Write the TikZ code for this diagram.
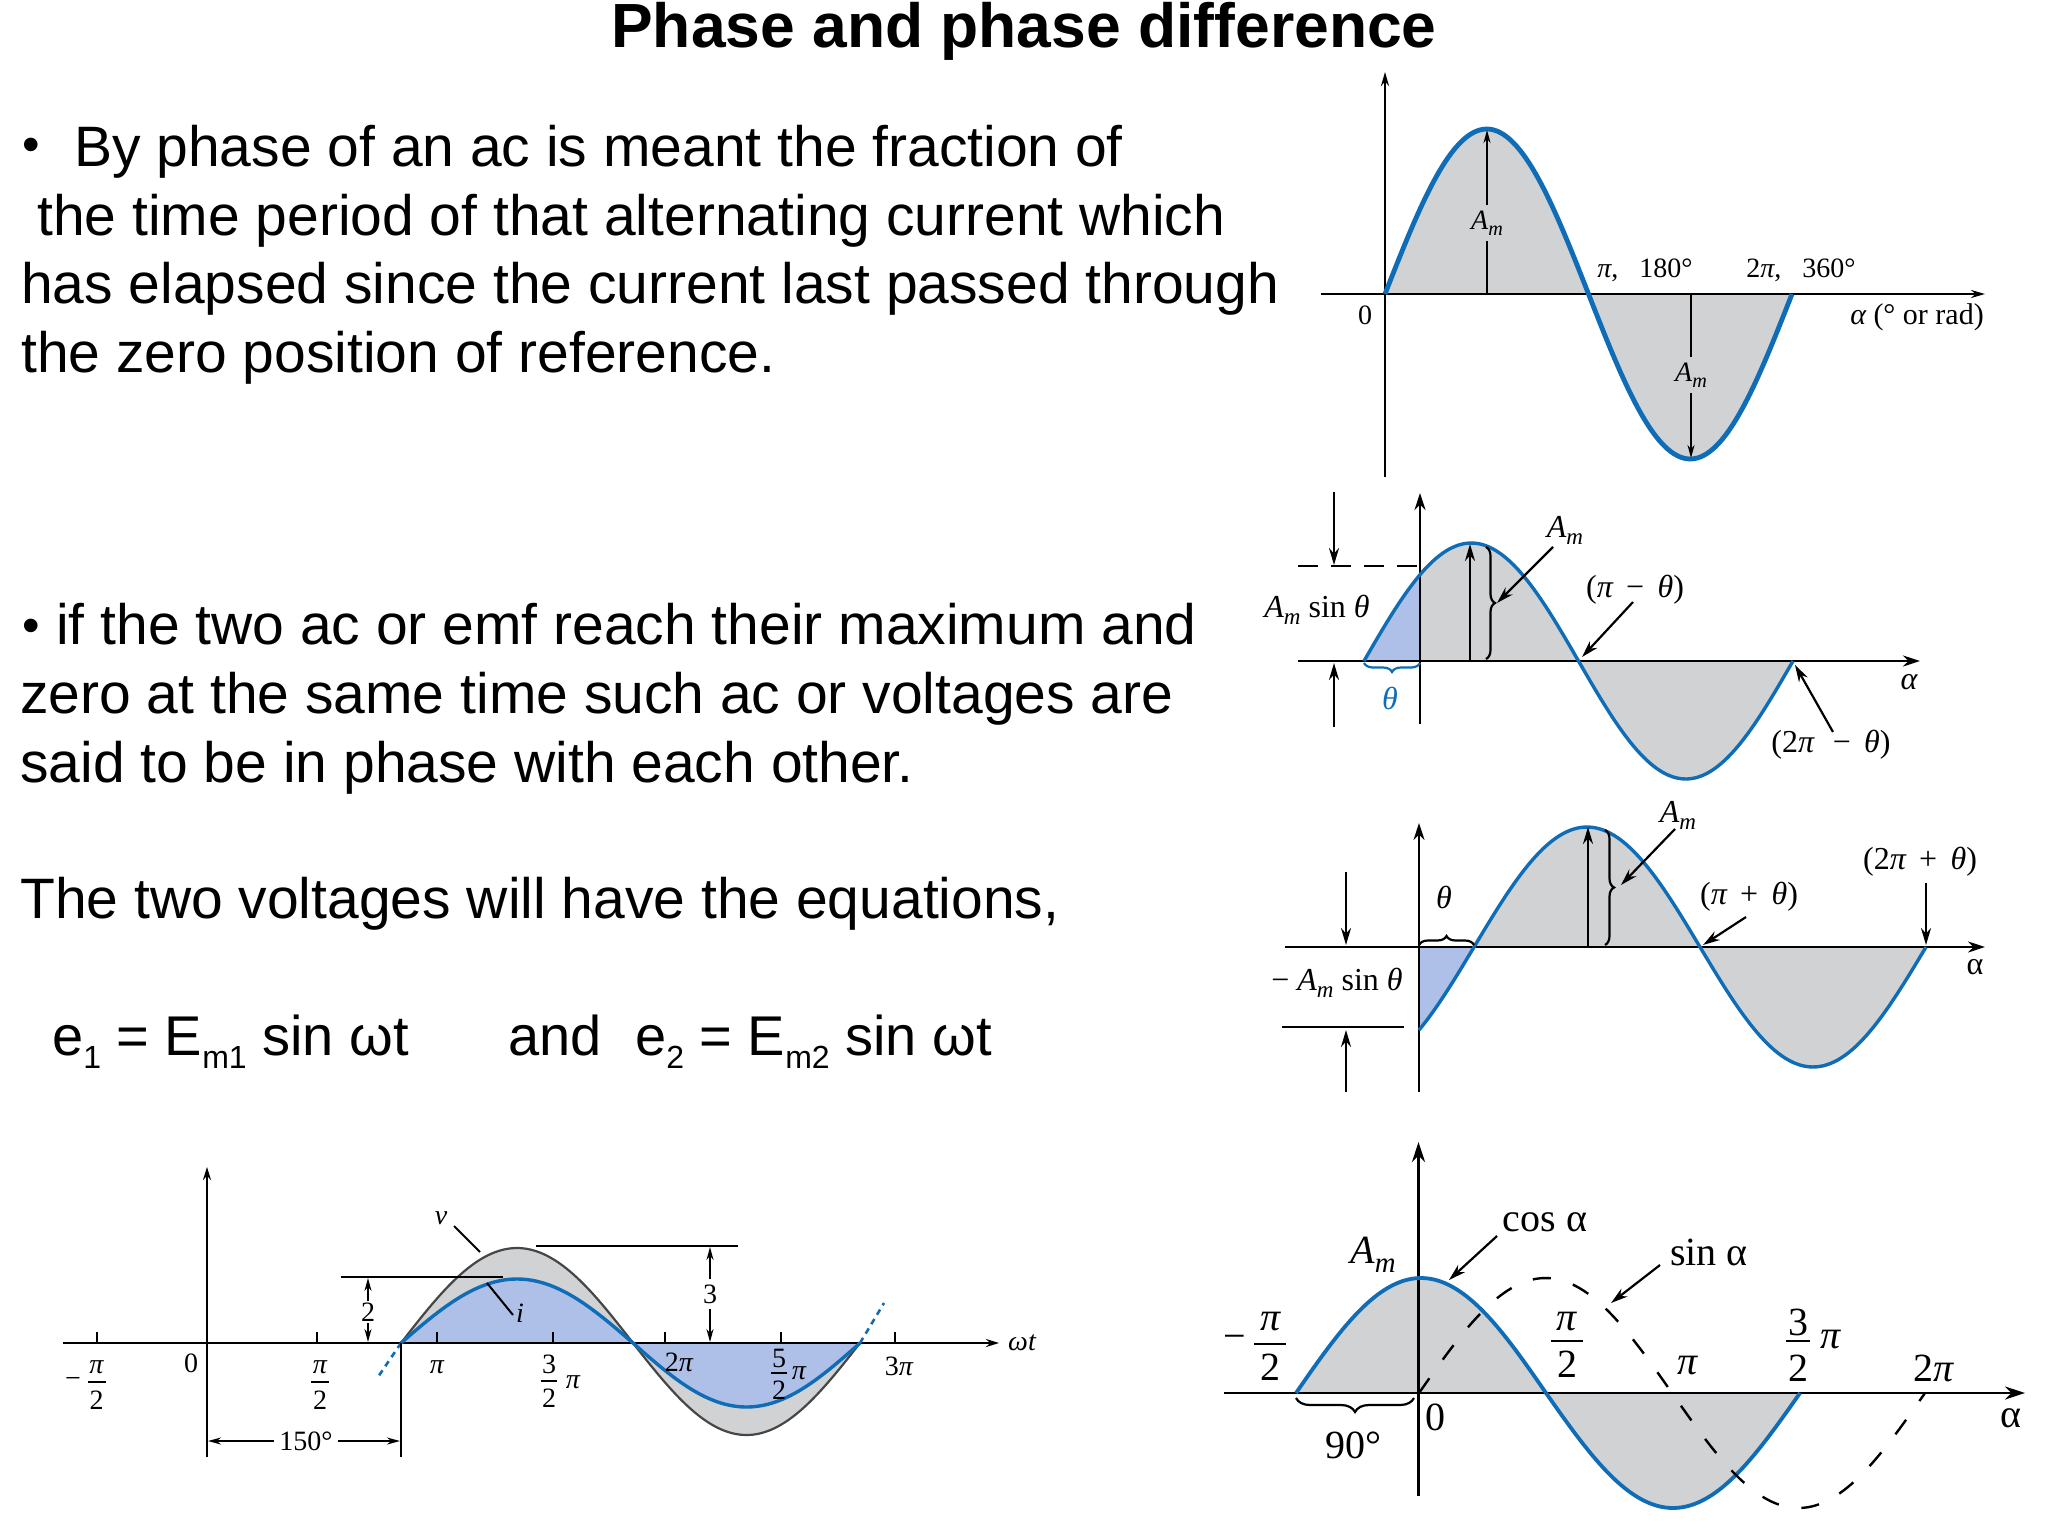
\documentclass[tikz,border=0pt]{standalone}
\usepackage{fontspec}
\setmainfont{Liberation Sans}
\newfontfamily\serif{Liberation Serif}
\usetikzlibrary{arrows.meta,decorations.pathreplacing}
\definecolor{cblue}{RGB}{15,108,182}
\definecolor{cgray}{RGB}{208,210,212}
\definecolor{cfill}{RGB}{174,192,232}
\definecolor{cdark}{RGB}{70,70,70}
\newcommand\wave[6]{plot[domain=#1:#2,samples=70,variable=\xx,smooth] (\xx,{#5-(#6)*sin((\xx-#3)/#4*180)})}
\newcommand\Am{{\itshape A}\raisebox{-.22em}{\fontsize{.72em}{1em}\selectfont\itshape m}}
\newcommand\subt[1]{\raisebox{-.24em}{\fontsize{32}{32}\selectfont #1}}
\newcommand\sz[1]{\fontsize{#1}{#1}\selectfont}
\newcommand\fracbar[6]{% name, x, num y, bar y, den y ; 6 = half width
  \coordinate (#1l) at (#2-#6,#4); \coordinate (#1r) at (#2+#6,#4);
  \draw[barline] (#1l) -- (#1r);}
\tikzset{
  body/.style={anchor=base west,inner sep=0,font=\sz{57}},
  bull/.style={anchor=base west,inner sep=0,font=\sz{50}},
  axisline/.style={line width=2.4pt,black},
  arr/.style={line width=2.2pt,-{Stealth[length=17pt,width=10pt]}},
  thin arr/.style={line width=1.6pt,-{Stealth[length=13pt,width=7pt]}},
  plain/.style={line width=2pt},
  barline/.style={line width=2.4pt},
  wv/.style={line width=3.4pt,cblue},
  wvthick/.style={line width=4.8pt,cblue},
  la/.style={inner sep=0,font=\serif\sz{28}},
  lb/.style={inner sep=0,font=\serif\sz{32}},
  lc/.style={inner sep=0,font=\serif\sz{40}},
  gapped/.style={inner sep=5pt},
  brc/.style={decorate,decoration={brace,amplitude=9pt},line width=2.2pt},
}
\begin{document}
\begin{tikzpicture}[x=1pt,y=-1pt]
\fill[white] (0,0) rectangle (2048,1536);
% ---------- text
\node[anchor=base,inner sep=0,font=\bfseries\sz{62.4}] (title) at (1024,48) {Phase and phase difference};
\node[bull] (b1) at (22,161) {•};
\node[body] (t1) at (74,166) {By phase of an ac is meant the fraction of};
\node[body] (t2) at (37,235) {the time period of that alternating current which};
\node[body] (t3) at (21,303) {has elapsed since the current last passed through};
\node[body] (t4) at (21,372) {the zero position of reference.};
\node[bull] (b2) at (22,642) {•};
\node[body] (t5) at (56,644) {if the two ac or emf reach their maximum and};
\node[body] (t6) at (20,713) {zero at the same time such ac or voltages are};
\node[body] (t7) at (20,782) {said to be in phase with each other.};
\node[body] (t8) at (20,918) {The two voltages will have the equations,};
\node[body,font=\sz{56}] (e1) at (52,1055) {e\subt{1} = E\subt{m1} sin ωt};
\node[body,font=\sz{56}] (e2) at (508,1055) {and};
\node[body,font=\sz{56}] (e3) at (635,1055) {e\subt{2} = E\subt{m2} sin ωt};
% ---------- graph 1 (top right)
\fill[cgray] \wave{1385}{1589}{1385}{204}{294}{165} -- cycle;
\fill[cgray] \wave{1589}{1792}{1589}{203}{294}{-165} -- cycle;
\coordinate (aT) at (1385,72); \coordinate (aB) at (1385,477);
\coordinate (aL) at (1321,294); \coordinate (aR) at (1985,294);
\draw[axisline,-{Stealth[length=14pt,width=8pt]}] (aB) -- (aT);
\draw[axisline,-{Stealth[length=14pt,width=8pt]}] (aL) -- (aR);
\draw[wvthick] \wave{1385}{1792}{1385}{203.5}{294}{165};
\node[la,gapped] (aAm1) at (1487,223) {\Am};
\node[la,gapped] (aAm2) at (1691,375) {\Am};
\coordinate (aP1) at (1487,294); \coordinate (aP1t) at (1487,130);
\coordinate (aP2) at (1691,294); \coordinate (aP2t) at (1691,458);
\draw[plain] (aP1) -- (aAm1); \draw[thin arr] (aAm1) -- (aP1t);
\draw[plain] (aP2) -- (aAm2); \draw[thin arr] (aAm2) -- (aP2t);
\node[la] (a1) at (1645,270) {{\itshape π},\,\,\, 180°};
\node[la] (a2) at (1801,270) {2{\itshape π},\,\,\, 360°};
\node[la] (a0) at (1365,315) {0};
\node[la,font=\serif\sz{30}] (a3) at (1917,317) {{\itshape α} (° or rad)};
% ---------- graph 2
\fill[cgray] \wave{1420}{1579}{1364}{215}{661}{118} -- (1420,661) -- cycle;
\fill[cfill] \wave{1364}{1420}{1364}{215}{661}{118} -- (1420,661) -- cycle;
\fill[cgray] \wave{1579}{1793}{1579}{214}{661}{-118} -- cycle;
\coordinate (bT) at (1420,493); \coordinate (bB) at (1420,724);
\coordinate (bL) at (1298,661); \coordinate (bR) at (1920,661);
\draw[axisline,-{Stealth[length=17pt,width=11pt]}] (bB) -- (bT);
\draw[axisline,-{Stealth[length=17pt,width=11pt]}] (bL) -- (bR);
\draw[wv] \wave{1364}{1793}{1364}{214.5}{661}{118};
\coordinate (bdL) at (1298,566); \coordinate (bdR) at (1420,566);
\draw[line width=2.4pt,dash pattern=on 20pt off 13pt] (bdL) -- (bdR);
\coordinate (bu0) at (1334,492); \coordinate (bu1) at (1334,565);
\coordinate (bd0) at (1334,727); \coordinate (bd1) at (1334,663);
\draw[arr] (bu0) -- (bu1); \draw[arr] (bd0) -- (bd1);
\node[lb] (bAs) at (1317,610) {\Am\ sin {\itshape θ}};
\coordinate (bbr1) at (1420,663); \coordinate (bbr2) at (1364,663);
\draw[brc,cblue] (bbr1) -- (bbr2);
\node[lb,cblue] (bth) at (1390,698) {{\itshape θ}};
\coordinate (bp0) at (1470,661); \coordinate (bp1) at (1470,544);
\draw[arr] (bp0) -- (bp1);
\coordinate (bbA) at (1486,547); \coordinate (bbB) at (1486,659);
\draw[brc] (bbA) -- (bbB);
\node[lb] (bAm) at (1565,530) {\Am};
\coordinate (bl0) at (1553,547); \coordinate (bl1) at (1497,603);
\draw[arr] (bl0) -- (bl1);
\node[lb] (bq1) at (1635,590) {({\itshape π} \,−\, {\itshape θ})};
\coordinate (bq1a) at (1633,602); \coordinate (bq1b) at (1582,657);
\draw[arr] (bq1a) -- (bq1b);
\node[lb] (bq2) at (1831,745) {(2{\itshape π} \,\,−\, {\itshape θ})};
\coordinate (bq2a) at (1833,732); \coordinate (bq2b) at (1795,665);
\draw[arr] (bq2a) -- (bq2b);
\node[lb] (bal) at (1909,682) {{\itshape α}};
% ---------- graph 3
\fill[cfill] \wave{1419}{1474}{1474}{226}{947}{120} -- (1419,947) -- cycle;
\fill[cgray] \wave{1474}{1700}{1474}{226}{947}{120} -- cycle;
\fill[cgray] \wave{1700}{1926}{1700}{226}{947}{-120} -- cycle;
\coordinate (cT) at (1419,823); \coordinate (cB) at (1419,1092);
\coordinate (cL) at (1285,947); \coordinate (cR) at (1985,947);
\draw[axisline,-{Stealth[length=17pt,width=11pt]}] (cB) -- (cT);
\draw[axisline,-{Stealth[length=17pt,width=11pt]}] (cL) -- (cR);
\draw[wv] \wave{1419}{1926}{1474}{226}{947}{120};
\coordinate (cu0) at (1346,872); \coordinate (cu1) at (1346,945);
\coordinate (cd0) at (1346,1092); \coordinate (cd1) at (1346,1030);
\draw[arr] (cu0) -- (cu1); \draw[arr] (cd0) -- (cd1);
\coordinate (chL) at (1282,1027); \coordinate (chR) at (1404,1027);
\draw[line width=2.4pt] (chL) -- (chR);
\node[lb] (cAs) at (1337,983) {− \Am\ sin {\itshape θ}};
\node[lb] (cth) at (1444,897) {{\itshape θ}};
\coordinate (cbr1) at (1419,945); \coordinate (cbr2) at (1474,945);
\draw[brc] (cbr1) -- (cbr2);
\coordinate (cp0) at (1588,947); \coordinate (cp1) at (1588,827);
\draw[arr] (cp0) -- (cp1);
\coordinate (cbA) at (1605,830); \coordinate (cbB) at (1605,945);
\draw[brc] (cbA) -- (cbB);
\node[lb] (cAm) at (1678,815) {\Am};
\coordinate (cl0) at (1675,829); \coordinate (cl1) at (1621,885);
\draw[arr] (cl0) -- (cl1);
\node[lb] (cq1) at (1749,897) {({\itshape π} \,+\, {\itshape θ})};
\coordinate (cq1a) at (1746,917); \coordinate (cq1b) at (1703,945);
\draw[arr] (cq1a) -- (cq1b);
\node[lb] (cq2) at (1920,862) {(2{\itshape π} \,+\, {\itshape θ})};
\coordinate (cq2a) at (1926,883); \coordinate (cq2b) at (1926,945);
\draw[arr] (cq2a) -- (cq2b);
\node[lb] (cal) at (1975,967) {α};
% ---------- graph 4 (bottom right)
\fill[cgray] \wave{1296}{1546}{1296}{250}{1393}{115} -- cycle;
\fill[cgray] \wave{1546}{1800}{1546}{254}{1393}{-115} -- cycle;
\coordinate (dT) at (1418.5,1142); \coordinate (dB) at (1418.5,1496);
\coordinate (dL) at (1224,1393); \coordinate (dR) at (2025,1393);
\draw[axisline,line width=2.8pt,-{Stealth[length=20pt,width=13pt]}] (dB) -- (dT);
\draw[axisline,line width=2.8pt,-{Stealth[length=20pt,width=13pt]}] (dL) -- (dR);
\draw[wvthick,line width=3.8pt] \wave{1296}{1546}{1296}{250}{1393}{115};
\draw[wvthick,line width=3.8pt] \wave{1546}{1800}{1546}{254}{1393}{-115};
\draw[line width=2.4pt,dash pattern=on 18pt off 23pt] \wave{1419}{1925}{1419}{253}{1393}{115};
\node[lc] (dAm) at (1373,1255) {\Am};
\node[lc] (dcos) at (1545,1222) {cos α};
\node[lc] (dsin) at (1709,1252) {sin α};
\coordinate (dc0) at (1497,1236); \coordinate (dc1) at (1449,1280);
\draw[arr] (dc0) -- (dc1);
\coordinate (ds0) at (1660,1265); \coordinate (ds1) at (1611,1303);
\draw[arr] (ds0) -- (ds1);
\node[lc] (dm) at (1235,1342) {−};
\node[lc] (dn1) at (1271,1322) {{\itshape π}};
\fracbar{df1}{1270}{}{1344}{}{16}
\node[lc] (dd1) at (1270,1367) {2};
\node[lc] (dn2) at (1567,1322) {{\itshape π}};
\fracbar{df2}{1567}{}{1341}{}{16}
\node[lc] (dd2) at (1567,1364) {2};
\node[lc] (dn3) at (1798,1322) {3};
\fracbar{df3}{1798}{}{1341}{}{12}
\node[lc] (dd3) at (1798,1368) {2};
\node[lc] (dp3) at (1830,1340) {{\itshape π}};
\node[lc] (dpi) at (1687,1366) {{\itshape π}};
\node[lc] (d2p) at (1933,1368) {2{\itshape π}};
\node[lc] (d0) at (1435,1417) {0};
\node[lc] (d90) at (1353,1445) {90°};
\coordinate (dbr1) at (1414,1398); \coordinate (dbr2) at (1296,1398);
\draw[brc,decoration={brace,amplitude=14pt}] (dbr1) -- (dbr2);
\node[lc] (dal) at (2011,1418) {α};
% ---------- graph 5 (bottom left)
\fill[cgray] \wave{401}{633}{401}{232}{1343}{95} -- cycle;
\fill[cgray] \wave{633}{860}{633}{227}{1343}{-92} -- cycle;
\fill[cfill] \wave{401}{633}{401}{232}{1343}{64} -- cycle;
\fill[cfill] \wave{633}{860}{633}{227}{1343}{-64} -- cycle;
\coordinate (eT) at (207,1167); \coordinate (eB) at (207,1457);
\coordinate (eL) at (63,1343); \coordinate (eR) at (999,1343);
\draw[axisline,-{Stealth[length=13pt,width=8pt]}] (eB) -- (eT);
\draw[axisline,-{Stealth[length=13pt,width=8pt]}] (eL) -- (eR);
\foreach \n/\tx in {1/96.5,2/317,3/437,4/552.5,5/665,6/781,7/895}{
  \coordinate (et\n) at (\tx,1343); \coordinate (eu\n) at (\tx,1332);
  \draw[plain] (et\n) -- (eu\n);}
\draw[line width=2.2pt,cdark] \wave{401}{633}{401}{232}{1343}{95};
\draw[line width=2.2pt,cdark] \wave{633}{860}{633}{227}{1343}{-92};
\draw[wv] \wave{401}{633}{401}{232}{1343}{64};
\draw[wv] \wave{633}{860}{633}{227}{1343}{-64};
\coordinate (ev0) at (401,1343); \coordinate (ev1) at (378,1377);
\coordinate (ew0) at (860,1343); \coordinate (ew1) at (884,1303);
\draw[cblue,line width=2.6pt,dash pattern=on 6pt off 5pt] (ev0) -- (ev1);
\draw[cblue,line width=2.6pt,dash pattern=on 6pt off 5pt] (ew0) -- (ew1);
\coordinate (eh) at (401,1343); \coordinate (ehB) at (401,1457);
\draw[plain] (eh) -- (ehB);
\coordinate (eh0) at (207,1343);
\node[la,gapped] (e150) at (306,1441) {150°};
\coordinate (e150L) at (208,1441); \coordinate (e150R) at (400,1441);
\draw[thin arr] (e150) -- (e150L); \draw[thin arr] (e150) -- (e150R);
\node[la] (ev) at (441,1218) {{\itshape v}};
\coordinate (evl0) at (454,1226); \coordinate (evl1) at (480,1252);
\draw[plain] (evl0) -- (evl1);
\node[la] (ei) at (520,1313) {{\itshape i}};
\coordinate (eil0) at (513,1315); \coordinate (eil1) at (487,1283);
\draw[plain] (eil0) -- (eil1);
\coordinate (eh2L) at (341,1277); \coordinate (eh2R) at (503,1277);
\coordinate (eh3L) at (536,1246); \coordinate (eh3R) at (738,1246);
\draw[line width=2.2pt] (eh2L) -- (eh2R);
\draw[line width=2.2pt] (eh3L) -- (eh3R);
\node[la,inner sep=2pt] (e2n) at (368,1312) {2};
\coordinate (e2t) at (368,1278); \coordinate (e2b) at (368,1342);
\draw[thin arr] (e2n) -- (e2t); \draw[thin arr] (e2n) -- (e2b);
\node[la,gapped] (e3n) at (710,1294) {3};
\coordinate (e3t) at (710,1247); \coordinate (e3b) at (710,1342);
\draw[thin arr] (e3n) -- (e3t); \draw[thin arr] (e3n) -- (e3b);
\node[la] (lm) at (73,1382) {−};
\node[la] (ln1) at (96.5,1367) {{\itshape π}};
\fracbar{ef1}{96.5}{}{1382}{}{9}
\node[la] (ld1) at (96.5,1400) {2};
\node[la] (l0) at (191,1363) {0};
\node[la] (ln2) at (320,1367) {{\itshape π}};
\fracbar{ef2}{320}{}{1382}{}{9}
\node[la] (ld2) at (320,1400) {2};
\node[la] (lpi) at (437,1367) {{\itshape π}};
\node[la] (ln3) at (549,1364) {3};
\fracbar{ef3}{549}{}{1381}{}{8}
\node[la] (ld3) at (549,1398) {2};
\node[la] (lp3) at (573,1382) {{\itshape π}};
\node[la] (l2p) at (679,1362) {2{\itshape π}};
\node[la] (ln5) at (779,1358) {5};
\fracbar{ef5}{779}{}{1373}{}{8}
\node[la] (ld5) at (779,1390) {2};
\node[la] (lp5) at (799,1373) {{\itshape π}};
\node[la] (l3p) at (899,1366) {3{\itshape π}};
\node[la] (lwt) at (1022,1343) {{\itshape ωt}};
\end{tikzpicture}
\end{document}
